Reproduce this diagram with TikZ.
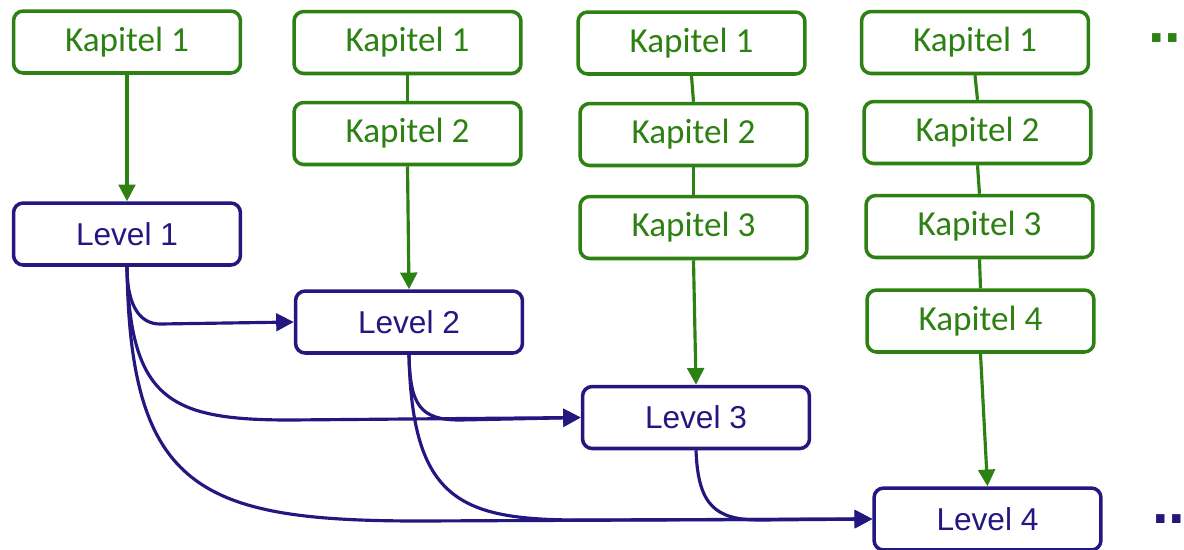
\documentclass[tikz,border=0pt]{standalone}
\usepackage{fontspec}
\setmainfont{Carlito}
\newfontfamily\levelfont{Liberation Sans}
\usetikzlibrary{arrows.meta}
\definecolor{kapgreen}{RGB}{45,128,18}
\definecolor{levblue}{RGB}{36,24,128}

\begin{document}
\begin{tikzpicture}[x=0.02cm,y=-0.02cm,
	kap/.style={draw=kapgreen, text=kapgreen, line width=2pt, rounded corners=5.5pt,
		minimum width=4.54cm, minimum height=1.24cm, inner sep=0pt,
		font=\fontsize{20}{24}\selectfont},
	lev/.style={draw=levblue, text=levblue, fill=white, line width=2pt, rounded corners=5.5pt,
		minimum width=4.54cm, minimum height=1.24cm, inner sep=0pt,
		font=\levelfont\fontsize{18}{22}\selectfont},
	kline/.style={draw=kapgreen, line width=1.8pt},
	karrow/.style={kline, -{Triangle[length=9.5pt,width=9.5pt]}},
	larrow/.style={draw=levblue, line width=1.8pt, -{Triangle[length=10pt,width=10pt]}}]
	\useasboundingbox (0,0) rectangle (1184,549);
	
	% Kapitel columns
	\node[kap] (k11) at (127,42) {Kapitel 1};
	
	\node[kap] (k21) at (407.5,42.5) {Kapitel 1};
	\node[kap] (k22) at (407.5,133.5) {Kapitel 2};
	
	\node[kap] (k31) at (691.5,43) {Kapitel 1};
	\node[kap] (k32) at (693.5,134.5) {Kapitel 2};
	\node[kap] (k33) at (693.5,227.5) {Kapitel 3};
	
	\node[kap] (k41) at (975,42.5) {Kapitel 1};
	\node[kap] (k42) at (977.5,132.5) {Kapitel 2};
	\node[kap] (k43) at (979.5,226.5) {Kapitel 3};
	\node[kap] (k44) at (980.5,321) {Kapitel 4};
	
	% Levels
	\node[lev] (l1) at (127,234) {Level 1};
	\node[lev] (l2) at (409,322) {Level 2};
	\node[lev] (l3) at (696,417.5) {Level 3};
	\node[lev] (l4) at (987.5,519) {Level 4};
	
	% dots at the right edge
	\node[text=kapgreen, anchor=base west, inner sep=0pt, font=\levelfont\bfseries\fontsize{34}{34}\selectfont] (kdots) at (1148,42) {...};
	\node[text=levblue, anchor=base west, inner sep=0pt, font=\levelfont\bfseries\fontsize{34}{34}\selectfont] (ldots) at (1152,523) {...};
	
	% green links
	\draw[karrow] (k11.south) -- (l1.north);
	\draw[kline] (k21.south) -- (k22.north);
	\draw[karrow] (k22.south) -- (l2.north);
	\draw[kline] (k31.south) -- (k32.north);
	\draw[kline] (k32.south) -- (k33.north);
	\draw[karrow] (k33.south) -- (l3.north);
	\draw[kline] (k41.south) -- (k42.north);
	\draw[kline] (k42.south) -- (k43.north);
	\draw[kline] (k43.south) -- (k44.north);
	\draw[karrow] (k44.south) -- (l4.north);
	
	% level curves
	\draw[larrow] (l1.south) .. controls (127,306) and (140,324) .. (160,324) -- (l2.west);
	\draw[larrow] (l1.south) .. controls (130,400) and (170,420) .. (290,420) -- (l3.west);
	\draw[larrow] (l1.south) .. controls (130,490) and (200,521) .. (420,521) -- (l4.west);
	\draw[larrow] (l2.south) .. controls (410,405) and (420,420) .. (460,420) -- (l3.west);
	\draw[larrow] (l2.south) .. controls (412,500) and (460,520) .. (580,520) -- (l4.west);
	\draw[larrow] (l3.south) .. controls (698,505) and (715,520) .. (760,520) -- (l4.west);
\end{tikzpicture}
\end{document}
